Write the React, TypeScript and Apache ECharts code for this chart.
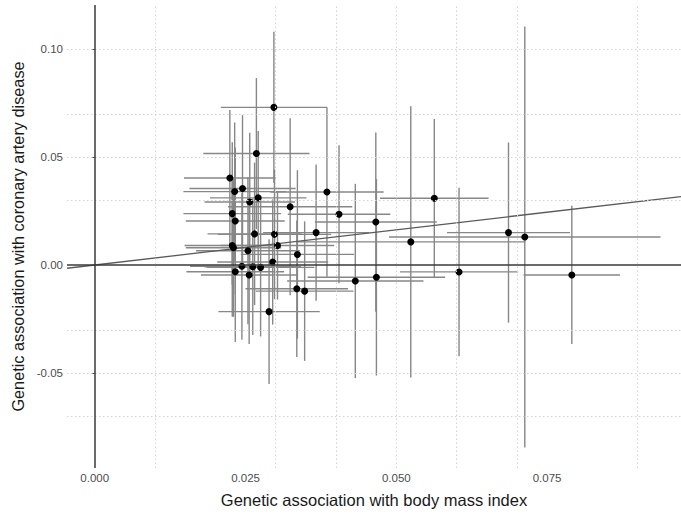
import React, { useEffect, useRef } from 'react';
import * as echarts from 'echarts';

// Genetic association with body mass index (beta) and 95% CI half-width
const bmiBeta = [0.0297, 0.0268, 0.0224, 0.0232, 0.0245, 0.0257, 0.0271, 0.0324, 0.0385, 0.0405, 0.0228, 0.0233, 0.0466, 0.0563, 0.0265, 0.0367, 0.0298, 0.0524, 0.0686, 0.0713, 0.0303, 0.0228, 0.0230, 0.0254, 0.0336, 0.0295, 0.0244, 0.0262, 0.0275, 0.0233, 0.0256, 0.0432, 0.0467, 0.0604, 0.0791, 0.0335, 0.0348, 0.0289];
const bmiCI = [0.0088, 0.0088, 0.0076, 0.0085, 0.0088, 0.0075, 0.0080, 0.0103, 0.0094, 0.0085, 0.0081, 0.0082, 0.0101, 0.0090, 0.0078, 0.0088, 0.0094, 0.0190, 0.0102, 0.0225, 0.0094, 0.0079, 0.0079, 0.0086, 0.0094, 0.0092, 0.0086, 0.0080, 0.0089, 0.0081, 0.0080, 0.0113, 0.0114, 0.0098, 0.0080, 0.0085, 0.0081, 0.0084];
// Genetic association with coronary artery disease (beta) and 95% CI half-width
const chdBeta = [0.0730, 0.0516, 0.0403, 0.0340, 0.0354, 0.0292, 0.0311, 0.0270, 0.0338, 0.0235, 0.0238, 0.0204, 0.0199, 0.0309, 0.0144, 0.0150, 0.0142, 0.0107, 0.0150, 0.0130, 0.0090, 0.0090, 0.0080, 0.0066, 0.0049, 0.0014, -0.0006, -0.0008, -0.0011, -0.0031, -0.0046, -0.0074, -0.0057, -0.0032, -0.0046, -0.0110, -0.0121, -0.0216];
const chdCI = [0.0350, 0.0350, 0.0315, 0.0320, 0.0340, 0.0320, 0.0310, 0.0410, 0.0392, 0.0320, 0.0330, 0.0340, 0.0415, 0.0367, 0.0330, 0.0315, 0.0300, 0.0628, 0.0417, 0.0975, 0.0250, 0.0330, 0.0320, 0.0340, 0.0390, 0.0290, 0.0340, 0.0316, 0.0320, 0.0325, 0.0320, 0.0450, 0.0455, 0.0390, 0.0320, 0.0316, 0.0323, 0.0335];

const xTickValues = [0, 0.025, 0.05, 0.075];
const yTickValues = [-0.05, 0, 0.05, 0.1];
const xGridValues = [0.0125, 0.025, 0.0375, 0.05, 0.0625, 0.075, 0.0875];
const yGridValues = [-0.075, -0.05, -0.025, 0.025, 0.05, 0.075, 0.1];
const xRange = [-0.0046, 0.0972];
const yRange = [-0.094, 0.1204];
const ivwSlope = 0.326;

const xTitle = 'Genetic association with body mass index';
const yTitle = 'Genetic association with coronary artery disease';

export default function App() {
  const ref = useRef<HTMLDivElement>(null);
  useEffect(() => {
    if (!ref.current) return;
    const chart = echarts.init(ref.current, null, { renderer: 'svg' });
    const barData = bmiBeta.map((x, i) => [
      x,
      chdBeta[i],
      x - bmiCI[i],
      x + bmiCI[i],
      chdBeta[i] - chdCI[i],
      chdBeta[i] + chdCI[i],
    ]);
    const pointData = bmiBeta.map((x, i) => [x, chdBeta[i]]);
    const lineData = xRange.map((x) => [x, ivwSlope * x]);
    const gridStyle = { color: '#d4d4d4', width: 1, type: [1.5, 2.5] as any };
    const font = 'Liberation Sans, Arial, sans-serif';
    chart.setOption({
      animation: false,
      backgroundColor: '#ffffff',
      grid: { left: 67, right: 0, top: 5, bottom: 46, containLabel: false },
      xAxis: {
        type: 'value',
        min: xRange[0],
        max: xRange[1],
        axisLine: { show: false },
        axisTick: { show: false },
        splitLine: { show: false },
        axisLabel: {
          customValues: xTickValues,
          formatter: (v: number) => v.toFixed(3),
          color: '#4d4d4d',
          fontSize: 11.5,
          fontFamily: font,
          margin: 4,
        },
        name: xTitle,
        nameLocation: 'middle',
        nameGap: 23,
        nameTextStyle: { fontSize: 16.5, color: '#1a1a1a', fontFamily: font },
      },
      yAxis: {
        type: 'value',
        min: yRange[0],
        max: yRange[1],
        axisLine: { show: false },
        axisTick: {
          show: true,
          customValues: yTickValues,
          length: 3,
          lineStyle: { color: '#4d4d4d', width: 1 },
        },
        splitLine: { show: false },
        axisLabel: {
          customValues: yTickValues,
          formatter: (v: number) => v.toFixed(2),
          color: '#4d4d4d',
          fontSize: 11.5,
          fontFamily: font,
          margin: 4,
        },
        name: yTitle,
        nameLocation: 'middle',
        nameGap: 40,
        nameTextStyle: { fontSize: 16.3, color: '#1a1a1a', fontFamily: font },
      },
      series: [
        {
          type: 'line',
          data: [],
          z: 1,
          silent: true,
          markLine: {
            silent: true,
            symbol: 'none',
            label: { show: false },
            lineStyle: gridStyle,
            data: [
              ...xGridValues.map((v) => ({ xAxis: v })),
              ...yGridValues.map((v) => ({ yAxis: v })),
            ],
          },
        },
        {
          type: 'custom',
          z: 2,
          silent: true,
          clip: true,
          encode: { x: [0, 2, 3], y: [1, 4, 5] },
          data: barData,
          renderItem: (params: any, api: any) => {
            const x = api.value(0);
            const y = api.value(1);
            const pL = api.coord([api.value(2), y]);
            const pR = api.coord([api.value(3), y]);
            const pB = api.coord([x, api.value(4)]);
            const pT = api.coord([x, api.value(5)]);
            const style = { stroke: '#878787', lineWidth: 1.4 };
            return {
              type: 'group',
              children: [
                { type: 'line', shape: { x1: pL[0], y1: pL[1], x2: pR[0], y2: pR[1] }, style },
                { type: 'line', shape: { x1: pB[0], y1: pB[1], x2: pT[0], y2: pT[1] }, style },
              ],
            };
          },
        },
        {
          type: 'line',
          data: lineData,
          z: 3,
          silent: true,
          showSymbol: false,
          symbol: 'none',
          lineStyle: { color: '#5a5a5a', width: 1.3 },
          markLine: {
            silent: true,
            symbol: 'none',
            label: { show: false },
            lineStyle: { color: '#3a3a3a', width: 1.5, type: 'solid' },
            data: [{ xAxis: 0 }, { yAxis: 0 }],
          },
        },
        {
          type: 'scatter',
          data: pointData,
          z: 4,
          symbol: 'circle',
          symbolSize: 7,
          itemStyle: { color: '#000000', opacity: 1 },
        },
      ],
    });
    return () => chart.dispose();
  }, []);
  return (
    <div
      ref={ref}
      style={{ position: 'fixed', left: 0, top: 0, width: 681, height: 514, background: '#fff' }}
    />
  );
}
